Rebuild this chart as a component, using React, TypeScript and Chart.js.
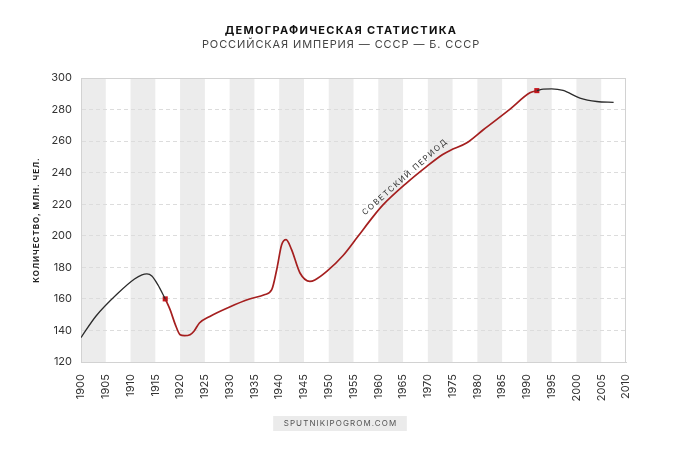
import { useEffect, useRef } from "react";
import { Chart, registerables } from "chart.js";

Chart.register(...registerables);

const FONT = "Inter, 'Open Sans', 'DejaVu Sans', sans-serif";

// ---- texts ----
const titleText = "ДЕМОГРАФИЧЕСКАЯ СТАТИСТИКА";
const subtitleText = "РОССИЙСКАЯ ИМПЕРИЯ — СССР — Б. СССР";
const yAxisTitle = "КОЛИЧЕСТВО, МЛН. ЧЕЛ.";
const periodLabel = "СОВЕТСКИЙ ПЕРИОД";
const footerText = "SPUTNIKIPOGROM.COM";

// ---- data (million people) ----
const empireYears = [1900, 1903, 1907.5, 1910.8, 1912.3, 1913.3, 1914.3, 1915.5, 1917];
const empireValues = [135.5, 149, 163.7, 172.6, 175.2, 175.8, 174.5, 169, 160];

const sovietYears = [
  1917, 1918, 1919, 1920, 1920.9, 1922, 1922.8, 1923.9, 1926, 1930, 1934, 1937, 1938.5,
  1939.5, 1940.5, 1941.4, 1942.5, 1944.2, 1946.2, 1947.2, 1949.6, 1952.9, 1955.8, 1959,
  1961, 1965.7, 1969.8, 1973, 1974.5, 1977.8, 1981.2, 1986.6, 1990.6, 1992,
];
const sovietValues = [
  160, 153, 144, 137.3, 136.7, 137.3, 139.5, 144.7, 148.9, 154.9, 159.9, 162.6, 165.8,
  178.5, 194.3, 197.5, 191.2, 176.4, 171.1, 172, 177.4, 187.5, 199.2, 212.3,
  219.7, 233.4, 244, 251.5, 254.1, 258.8, 267.2, 280.3, 290.6, 292,
];

const postYears = [1992, 1993.3, 1995, 1997.3, 2000.7, 2004.1, 2007.5];
const postValues = [292, 293, 293.1, 292.1, 287.3, 285.1, 284.6];

const markerYears = [1917, 1992];
const markerValues = [160, 292];

const bandStarts = [1900, 1910, 1920, 1930, 1940, 1950, 1960, 1970, 1980, 1990, 2000];
const bandSpan = 5;

const xMin = 1900;
const xMax = 2010;
const xStep = 5;
const yMin = 120;
const yMax = 300;
const yStep = 20;

const periodLabelYear = 1965.4;
const periodLabelValue = 237.3;

const toPoints = (xs: number[], ys: number[]) => xs.map((x, i) => ({ x, y: ys[i] }));

const decorPlugin = {
  id: "decor",
  beforeDraw(chart: any) {
    const { ctx, chartArea: a, scales } = chart;
    const x = scales.x;
    ctx.save();
    ctx.fillStyle = "#fff";
    ctx.fillRect(0, 0, chart.width, chart.height);
    ctx.fillStyle = "#ececec";
    bandStarts.forEach((s) => {
      const x1 = x.getPixelForValue(s);
      const x2 = x.getPixelForValue(s + bandSpan);
      ctx.fillRect(x1, a.top, x2 - x1, a.bottom - a.top);
    });
    ctx.restore();
  },
  beforeDatasetsDraw(chart: any) {
    const { ctx, chartArea: a } = chart;
    ctx.save();
    ctx.strokeStyle = "#d2d2d2";
    ctx.lineWidth = 1;
    ctx.strokeRect(Math.round(a.left) + 0.5, Math.round(a.top) + 0.5, Math.round(a.right - a.left) - 1, Math.round(a.bottom - a.top));
    ctx.restore();
  },
  afterDraw(chart: any) {
    const { ctx, chartArea: a, scales } = chart;
    const cx = chart.width / 2;
    ctx.save();
    ctx.textAlign = "center";
    ctx.textBaseline = "middle";

    // title
    ctx.fillStyle = "#111";
    ctx.font = `bold 11px ${FONT}`;
    (ctx as any).letterSpacing = "1.3px";
    ctx.fillText(titleText, cx + 1, 31);

    // subtitle
    ctx.fillStyle = "#444";
    ctx.font = `11px ${FONT}`;
    (ctx as any).letterSpacing = "0.9px";
    ctx.fillText(subtitleText, cx + 1, 44.5);

    // y-axis title
    ctx.save();
    ctx.translate(37, (a.top + a.bottom) / 2);
    ctx.rotate(-Math.PI / 2);
    ctx.fillStyle = "#222";
    ctx.font = `bold 8px ${FONT}`;
    (ctx as any).letterSpacing = "1px";
    ctx.fillText(yAxisTitle, 0, 0);
    ctx.restore();

    // period label
    ctx.save();
    ctx.translate(scales.x.getPixelForValue(periodLabelYear), scales.y.getPixelForValue(periodLabelValue));
    ctx.rotate((-41.5 * Math.PI) / 180);
    ctx.fillStyle = "#333";
    ctx.font = `8px ${FONT}`;
    (ctx as any).letterSpacing = "1.5px";
    ctx.fillText(periodLabel, 0, 0);
    ctx.restore();

    // footer
    ctx.font = `8px ${FONT}`;
    (ctx as any).letterSpacing = "1.1px";
    const w = ctx.measureText(footerText).width;
    const bw = w + 20;
    ctx.fillStyle = "#ebebeb";
    ctx.fillRect(cx - bw / 2, 416, bw, 15);
    ctx.fillStyle = "#555";
    ctx.fillText(footerText, cx + 0.5, 423.5);

    (ctx as any).letterSpacing = "0px";
    ctx.restore();
  },
};

export default function App() {
  const ref = useRef<HTMLCanvasElement | null>(null);

  useEffect(() => {
    if (!ref.current) return;
    const lineCommon = {
      type: "line" as const,
      pointRadius: 0,
      pointHoverRadius: 0,
      fill: false,
      cubicInterpolationMode: "monotone" as const,
    };
    const chart = new Chart(ref.current, {
      type: "line",
      data: {
        datasets: [
          {
            ...lineCommon,
            data: toPoints(empireYears, empireValues),
            borderColor: "#2b2b2b",
            borderWidth: 1.3,
          },
          {
            ...lineCommon,
            data: toPoints(sovietYears, sovietValues),
            borderColor: "#a51f1f",
            borderWidth: 1.7,
          },
          {
            ...lineCommon,
            data: toPoints(postYears, postValues),
            borderColor: "#2b2b2b",
            borderWidth: 1.3,
          },
          {
            type: "line",
            data: toPoints(markerYears, markerValues),
            showLine: false,
            pointStyle: "rect",
            pointRadius: 3.6,
            pointBackgroundColor: "#c8161d",
            pointBorderWidth: 0,
          } as any,
        ],
      },
      options: {
        animation: false,
        responsive: true,
        maintainAspectRatio: false,
        layout: { padding: { top: 78, right: 54, left: 0, bottom: 0 } },
        plugins: {
          legend: { display: false },
          tooltip: { enabled: false },
          title: { display: false },
        },
        scales: {
          x: {
            type: "linear",
            min: xMin,
            max: xMax,
            afterFit: (s: any) => {
              s.height = 88;
            },
            ticks: {
              stepSize: xStep,
              autoSkip: false,
              minRotation: 90,
              maxRotation: 90,
              padding: 4,
              color: "#333",
              font: { family: FONT, size: 11 },
              callback: (v: any) => String(v),
            },
            grid: { display: false },
            border: { display: true, color: "#d2d2d2" },
          },
          y: {
            min: yMin,
            max: yMax,
            afterFit: (s: any) => {
              s.width = 81;
            },
            ticks: {
              stepSize: yStep,
              padding: 9,
              color: "#333",
              font: { family: FONT, size: 11 },
              callback: (v: any) => String(v),
            },
            grid: { color: "#dcdcdc", lineWidth: 1, drawTicks: false },
            border: { display: true, color: "#d2d2d2", dash: [4, 3] },
          },
        },
      },
      plugins: [decorPlugin],
    });
    return () => chart.destroy();
  }, []);

  return (
    <div style={{ position: "absolute", left: 0, top: 0, width: 680, height: 450, background: "#fff" }}>
      <canvas ref={ref} />
    </div>
  );
}
